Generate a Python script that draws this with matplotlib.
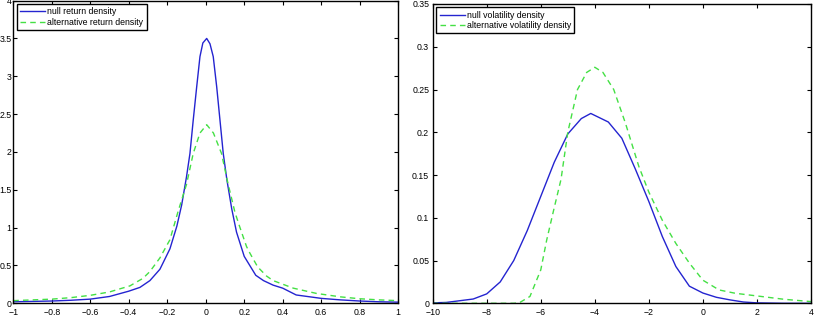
import numpy as np
import matplotlib
matplotlib.use("Agg")
import matplotlib.pyplot as plt

plt.rcParams['font.family'] = ['Liberation Sans', 'DejaVu Sans']

# left panel: return densities
ret_x_null = [-1, -0.9, -0.8, -0.7, -0.6, -0.5, -0.4, -0.342, -0.29, -0.238, -0.186,
              -0.15, -0.125, -0.1, -0.082, -0.065, -0.047, -0.03, -0.015, 0.005, 0.022,
              0.039, 0.057, 0.074, 0.091, 0.11, 0.135, 0.16, 0.2, 0.26, 0.3, 0.35, 0.4,
              0.47, 0.6, 0.7, 0.8, 0.9, 1]
ret_null = [0.02, 0.025, 0.03, 0.04, 0.055, 0.09, 0.16, 0.21, 0.3, 0.45, 0.72,
            1.02, 1.3, 1.67, 1.98, 2.42, 2.86, 3.26, 3.44, 3.5, 3.43,
            3.26, 2.86, 2.42, 1.98, 1.63, 1.25, 0.94, 0.62, 0.37, 0.3, 0.24, 0.2,
            0.11, 0.065, 0.045, 0.03, 0.02, 0.015]
ret_x_alt = [-1, -0.9, -0.8, -0.7, -0.6, -0.5, -0.394, -0.326, -0.29, -0.238, -0.186,
             -0.143, -0.1, -0.065, -0.03, 0.005, 0.04, 0.082, 0.114, 0.152, 0.178,
             0.212, 0.23, 0.27, 0.316, 0.35, 0.455, 0.576, 0.7, 0.8, 0.9, 1]
ret_alt = [0.035, 0.045, 0.055, 0.075, 0.105, 0.15, 0.23, 0.33, 0.42, 0.6, 0.84,
           1.22, 1.57, 1.98, 2.25, 2.36, 2.25, 1.98, 1.6, 1.2, 1.0,
           0.75, 0.66, 0.48, 0.36, 0.3, 0.2, 0.13, 0.085, 0.06, 0.045, 0.035]

# right panel: volatility densities
vol_x_null = [-10, -9.5, -9, -8.5, -8, -7.5, -7, -6.5, -6, -5.5, -5, -4.5, -4.15,
              -3.5, -3, -2.5, -2, -1.5, -1, -0.5, 0, 0.5, 1, 1.5, 2, 3, 4]
vol_null = [0.0005, 0.001, 0.003, 0.005, 0.011, 0.025, 0.05, 0.085, 0.125, 0.165, 0.198,
            0.216, 0.222, 0.212, 0.193, 0.157, 0.119, 0.078, 0.043, 0.02, 0.012,
            0.007, 0.004, 0.0015, 0.0005, 0.0, 0.0]
vol_x_alt = [-10, -8, -7, -6.8, -6.4, -6.0, -5.78, -5.53, -5.25, -5.0, -4.64, -4.3,
             -4.0, -3.7, -3.3, -2.86, -2.37, -2, -1.5, -1, -0.5, 0, 0.6, 1.2, 2, 3, 4]
vol_alt = [0.0, 0.0, 0.0, 0.0005, 0.008, 0.039, 0.074, 0.108, 0.145, 0.2, 0.25, 0.27,
           0.276, 0.27, 0.25, 0.21, 0.16, 0.13, 0.097, 0.07, 0.047, 0.027, 0.0156,
           0.0117, 0.0086, 0.0047, 0.002]

blue = '#2424d0'
green = '#44e044'
fs = 6.3

fig = plt.figure(figsize=(8.19, 3.22), dpi=100)
ax1 = fig.add_axes([0.0162, 0.0581, 0.470, 0.940])
ax2 = fig.add_axes([0.5283, 0.0581, 0.4619, 0.9295])

ax1.plot(ret_x_null, ret_null, color=blue, lw=1.0, label='null return density')
ax1.plot(ret_x_alt, ret_alt, color=green, lw=1.0, ls=(0, (4, 3)), label='alternative return density')
ax1.set_xlim(-1, 1)
ax1.set_ylim(0, 4)
ax1.set_xticks(np.arange(-1, 1.01, 0.2))
ax1.set_xticklabels(['\u22121', '\u22120.8', '\u22120.6', '\u22120.4', '\u22120.2', '0',
                     '0.2', '0.4', '0.6', '0.8', '1'])
ax1.set_yticks(np.arange(0, 4.01, 0.5))
ax1.set_yticklabels(['0', '0.5', '1', '1.5', '2', '2.5', '3', '3.5', '4'])

ax2.plot(vol_x_null, vol_null, color=blue, lw=1.0, label='null volatility density')
ax2.plot(vol_x_alt, vol_alt, color=green, lw=1.0, ls=(0, (4, 3)), label='alternative volatility density')
ax2.set_xlim(-10, 4)
ax2.set_ylim(0, 0.35)
ax2.set_xticks(np.arange(-10, 4.01, 2))
ax2.set_xticklabels(['\u221210', '\u22128', '\u22126', '\u22124', '\u22122', '0', '2', '4'])
ax2.set_yticks(np.arange(0, 0.351, 0.05))
ax2.set_yticklabels(['0', '0.05', '0.1', '0.15', '0.2', '0.25', '0.3', '0.35'])

for ax in (ax1, ax2):
    for s in ax.spines.values():
        s.set_linewidth(1.0)
    ax.tick_params(direction='in', top=True, right=True, length=3, width=0.8,
                   labelsize=fs, pad=2.5)
    ax.tick_params(axis='x', pad=3.5)
    leg = ax.legend(loc='upper left', fontsize=fs, frameon=True, fancybox=False,
                    edgecolor='black', framealpha=1, handlelength=2.86,
                    handletextpad=0.26, borderpad=0.38, labelspacing=0.15,
                    borderaxespad=0.4)
    leg.get_frame().set_linewidth(1.0)

# left panel labels sit tight against the figure edge
ax1.tick_params(axis='y', pad=1.2)

fig.savefig('out.png', dpi=100)
